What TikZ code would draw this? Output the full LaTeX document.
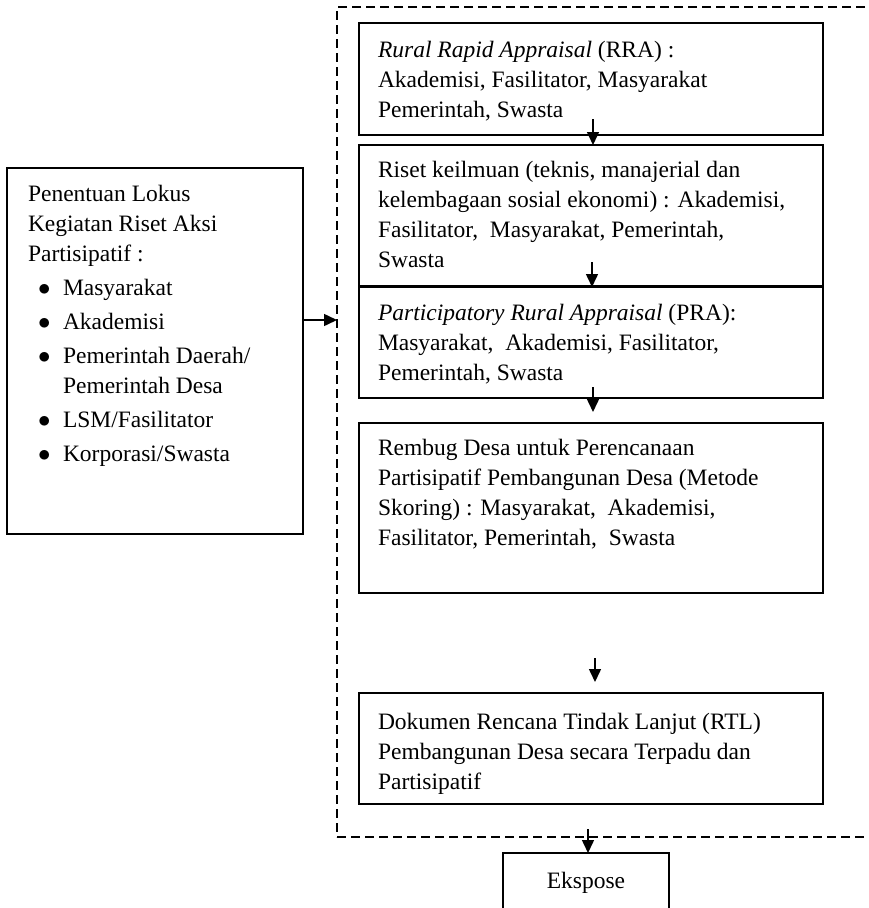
\documentclass[tikz,border=0pt]{standalone}
\usepackage{fontspec}
\setmainfont{Liberation Serif}
\usetikzlibrary{arrows.meta}
\newcommand{\mybul}{\makebox[35pt][l]{\hspace*{10pt}$\bullet$}}
\begin{document}
\begin{tikzpicture}[x=1pt,y={(0pt,-1pt)},
  box/.style={draw, line width=2pt, inner sep=0pt, outer sep=0pt, anchor=north west},
  rbox/.style={box, minimum width=464pt},
  txt/.style={anchor=north west, inner sep=0pt, outer sep=0pt, align=left, font=\fontsize{23.5}{30}\selectfont},
  frame/.style={draw, line width=1.5pt, dash pattern=on 9pt off 5pt, inner sep=0pt, outer sep=0pt, anchor=north west},
  arr/.style={line width=1.5pt, -{Triangle[length=13pt,width=12pt]}}]
\useasboundingbox (0,0) rectangle (869,908);
\clip (0,0) rectangle (869,908);
% dashed frame
\node[frame, minimum width=570pt, minimum height=830pt] (fr) at (337,7) {};
% left box
\node[box, minimum width=296pt, minimum height=366pt] (lb) at (7,168) {};
\node[txt] (lt) at (28,180) {\strut Penentuan Lokus\\
Kegiatan Riset Aksi\\
Partisipatif :\\[4pt]
\mybul Masyarakat\\[4pt]
\mybul Akademisi\\[4pt]
\mybul Pemerintah Daerah/\\
\hspace*{35pt}Pemerintah Desa\\[4pt]
\mybul LSM/Fasilitator\\[4pt]
\mybul Korporasi/Swasta};
% right boxes
\node[rbox, minimum height=112pt] (b1) at (359,23) {};
\node[txt] (t1) at (378,36) {\strut\textit{Rural Rapid Appraisal} (RRA) :\\
Akademisi, Fasilitator, Masyarakat\\
Pemerintah, Swasta};
\node[rbox, minimum height=141pt] (b2) at (359,145) {};
\node[txt] (t2) at (378,156) {\strut Riset keilmuan (teknis, manajerial dan\\
kelembagaan sosial ekonomi) : Akademisi,\\
Fasilitator,\ \ Masyarakat, Pemerintah,\\
Swasta};
\node[rbox, minimum height=111pt] (b3) at (359,287) {};
\node[txt] (t3) at (378,299) {\strut\textit{Participatory Rural Appraisal} (PRA):\\
Masyarakat,\ \ Akademisi, Fasilitator,\\
Pemerintah, Swasta};
\node[rbox, minimum height=170pt] (b4) at (359,423) {};
\node[txt] (t4) at (378,434) {\strut Rembug Desa untuk Perencanaan\\
Partisipatif Pembangunan Desa (Metode\\
Skoring) : Masyarakat,\ \ Akademisi,\\
Fasilitator, Pemerintah,\ \ Swasta};
\node[rbox, minimum height=111pt] (b5) at (359,693) {};
\node[txt] (t5) at (378,708) {\strut Dokumen Rencana Tindak Lanjut (RTL)\\
Pembangunan Desa secara Terpadu dan\\
Partisipatif};
% Ekspose
\node[box, minimum width=166pt, minimum height=80pt] (ek) at (503,853) {};
\node[font=\fontsize{23.5}{30}\selectfont, anchor=base, inner sep=0pt] (ekt) at (586,888) {Ekspose};
% arrow coordinates
\coordinate (a1) at (593,119);
\coordinate (a2) at (592,262);
\coordinate (a3) at (593,387);
\coordinate (e3) at (593,412);
\coordinate (a4) at (595,658);
\coordinate (e4) at (595,682);
\coordinate (a5) at (588,829);
% arrows
\draw[arr] (lb.east |- 0,320) -- (fr.west |- 0,320);
\draw[arr] (a1) -- (a1 |- b2.north);
\draw[arr] (a2) -- (a2 |- b3.north);
\draw[arr] (a3) -- (e3);
\draw[arr] (a4) -- (e4);
\draw[arr] (a5) -- (a5 |- ek.north);
\end{tikzpicture}
\end{document}
